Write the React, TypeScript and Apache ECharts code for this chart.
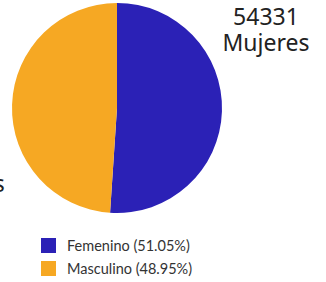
import React, { useEffect, useRef } from "react";
import * as echarts from "echarts";

const categories = ["Femenino", "Masculino"];
const values = [54331, 52095];
const percentLabels = ["51.05%", "48.95%"];
const sideLabels = ["Mujeres", "Hombres"];
const colors = ["#2b21b6", "#f6a823"];

export default function App() {
  const ref = useRef<HTMLDivElement>(null);
  useEffect(() => {
    document.body.style.margin = "0";
    const chart = echarts.init(ref.current!, null, { renderer: "svg" });
    const textFont = '"Noto Sans", sans-serif';
    chart.setOption({
      animation: false,
      legend: {
        orient: "vertical",
        left: 41,
        top: 238,
        height: 60,
        padding: 0,
        itemWidth: 15,
        itemHeight: 15,
        itemGap: 8,
        icon: "rect",
        data: categories,
        formatter: (name: string) => {
          const i = categories.indexOf(name);
          return `${name} (${percentLabels[i]})`;
        },
        textStyle: {
          fontFamily: "Lato, sans-serif",
          fontSize: 14.5,
          color: "#333",
          padding: [0, 0, 0, 6],
        },
      },
      graphic: [
        {
          type: "text",
          x: 266,
          y: 3,
          style: {
            text: `${values[0]}\n${sideLabels[0]}`,
            align: "center",
            fontFamily: textFont,
            fontSize: 23,
            lineHeight: 26,
            fill: "#222",
          },
        },
        {
          type: "text",
          x: -45,
          y: 144,
          style: {
            text: `${values[1]}\n${sideLabels[1]}`,
            align: "center",
            fontFamily: textFont,
            fontSize: 23,
            lineHeight: 26,
            fill: "#222",
          },
        },
      ],
      series: [
        {
          type: "pie",
          center: [117, 108],
          radius: 105,
          startAngle: 90,
          clockwise: true,
          label: { show: false },
          labelLine: { show: false },
          emphasis: { disabled: true },
          data: categories.map((c, i) => ({
            name: c,
            value: values[i],
            itemStyle: { color: colors[i] },
          })),
        },
      ],
    });
    return () => chart.dispose();
  }, []);
  return <div ref={ref} style={{ width: 326, height: 282 }} />;
}
